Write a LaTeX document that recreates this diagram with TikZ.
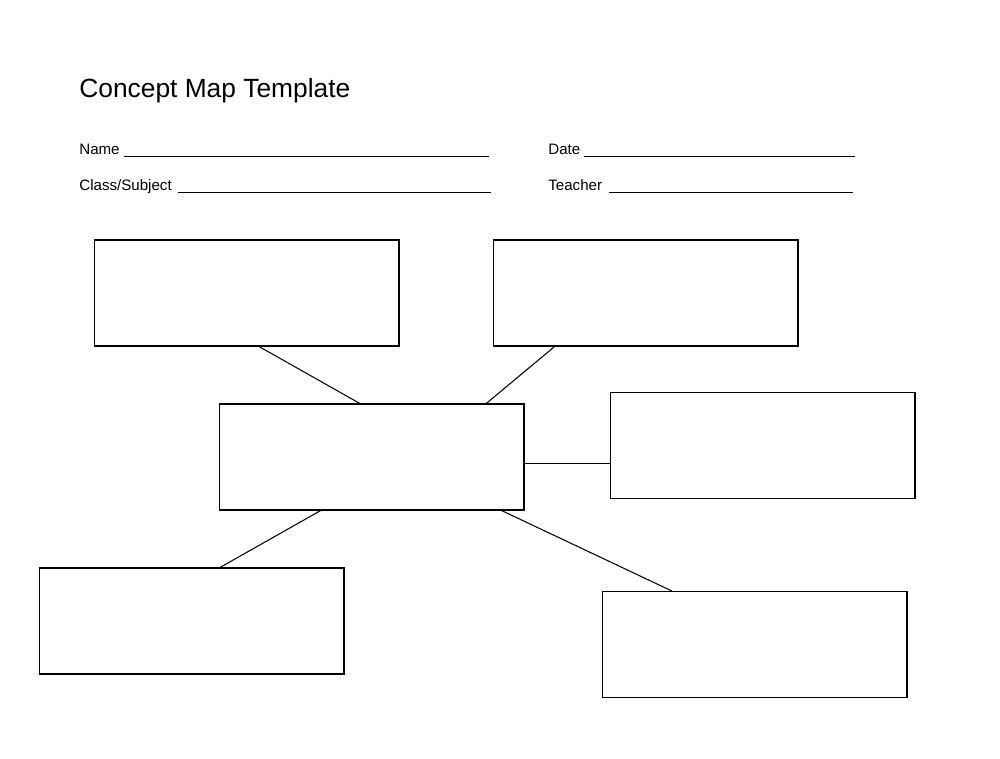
\documentclass[tikz,border=0pt]{standalone}
\usepackage{fontspec}
\setmainfont{Liberation Sans}
\usetikzlibrary{calc}
\begin{document}
\begin{tikzpicture}[x=0.02cm,y=-0.02cm,
  box/.style={draw,line width=0.6pt,minimum width=6.1cm,minimum height=2.12cm,inner sep=0pt},
  con/.style={line width=0.6pt},
  lab/.style={anchor=base west,inner sep=0pt,font=\fontsize{8.6}{10}\selectfont},
  ul/.style={line width=0.5pt}]
\useasboundingbox (0,0) rectangle (1000,758);
\node[anchor=base west,inner sep=0pt,font=\fontsize{15}{18}\selectfont] (t) at (79,97) {Concept Map Template};
\node[lab] (n) at (79,154) {Name};
\node[lab] (d) at (548,154) {Date};
\node[lab] (c) at (79,190) {Class/Subject};
\node[lab] (te) at (548,190) {Teacher};
\draw[ul] (124,156) -- (489,156);
\draw[ul] (584,156) -- (855,156);
\draw[ul] (178,192) -- (491,192);
\draw[ul] (609,192) -- (853,192);
\node[box] (A) at (246.5,293) {};
\node[box] (B) at (645.5,293) {};
\node[box] (C) at (371.5,457) {};
\node[box] (D) at (762.5,445.5) {};
\node[box] (E) at (191.5,621) {};
\node[box] (F) at (754.5,644.5) {};
\draw[con] ($(A.south west)!0.541!(A.south east)$) -- ($(C.north west)!0.462!(C.north east)$);
\draw[con] ($(B.south west)!0.203!(B.south east)$) -- ($(C.north west)!0.875!(C.north east)$);
\coordinate (cd) at ($(C.north east)!0.557!(C.south east)$);
\draw[con] (cd) -- (D.west |- cd);
\draw[con] ($(C.south west)!0.334!(C.south east)$) -- ($(E.north west)!0.593!(E.north east)$);
\draw[con] ($(C.south west)!0.925!(C.south east)$) -- ($(F.north west)!0.23!(F.north east)$);
\end{tikzpicture}
\end{document}
